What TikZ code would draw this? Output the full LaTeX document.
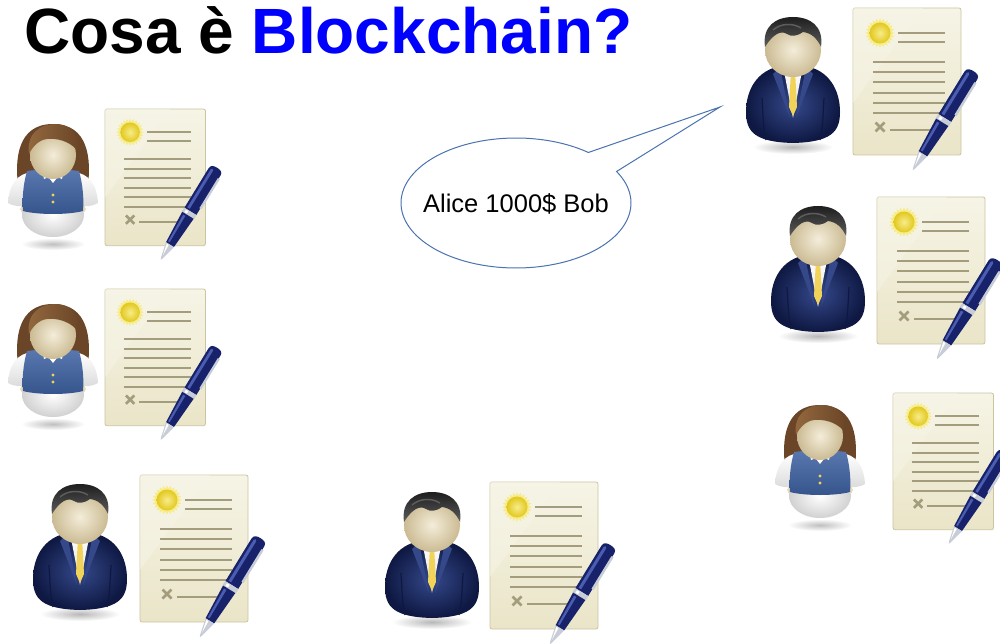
\documentclass[tikz,border=0pt]{standalone}
\usepackage{fontspec}
\setmainfont{Liberation Sans}
\definecolor{suitdark}{HTML}{0E1842}
\definecolor{suitmid}{HTML}{1E2F68}
\definecolor{suitlight}{HTML}{34488A}
\definecolor{skin}{HTML}{E6DABB}
\definecolor{skinlight}{HTML}{F4EDDA}
\definecolor{skindark}{HTML}{CBBB93}
\definecolor{hairblack}{HTML}{1E1E1E}
\definecolor{hairgrey}{HTML}{5C5C5C}
\definecolor{hairbrown}{HTML}{6A4527}
\definecolor{hairbrownlight}{HTML}{94693F}
\definecolor{vest}{HTML}{36548C}
\definecolor{vestlight}{HTML}{5A78B0}
\definecolor{tie}{HTML}{F2D35A}
\definecolor{paper}{HTML}{EAE5C8}
\definecolor{paperlight}{HTML}{F6F4E6}
\definecolor{paperedge}{HTML}{CBC4A0}
\definecolor{ink}{HTML}{A39D7E}
\definecolor{seal}{HTML}{E2C81E}
\definecolor{seallight}{HTML}{F7EC8A}
\definecolor{pen}{HTML}{17226A}
\definecolor{penlight}{HTML}{4B5DB0}
\definecolor{metal}{HTML}{C8CCD6}
\definecolor{bubble}{HTML}{4A73B0}
\definecolor{titleblue}{HTML}{0000FF}

\tikzset{
  inkline/.style={draw=ink, line width=2pt},
  % man in a navy suit, origin at the centre of the face
  man/.pic={
    \shade[inner color=black!28, outer color=white] (0,97) ellipse [x radius=40, y radius=7];
    \shade[inner color=suitlight, outer color=suitdark]
      (-12,16) .. controls (-36,20) and (-47,40) .. (-47,62)
      .. controls (-47,82) and (-38,92) .. (0,93)
      .. controls (38,92) and (47,82) .. (47,62)
      .. controls (47,40) and (36,20) .. (12,16) -- cycle;
    \draw[suitdark, line width=1.2pt] (-31,48) .. controls (-30,64) and (-30,78) .. (-27,90);
    \draw[suitdark, line width=1.2pt] (31,48) .. controls (30,64) and (30,78) .. (27,90);
    \fill[suitlight] (-13,17) -- (-20,24) -- (-3,68) -- cycle;
    \fill[suitlight] (13,17) -- (20,24) -- (3,68) -- cycle;
    \shade[top color=white, bottom color=black!12] (-10,16) -- (10,16) -- (0,68) -- cycle;
    \fill[tie] (-3.5,19) -- (3.5,19) -- (2.3,26) -- (-2.3,26) -- cycle;
    \fill[tie] (-2.3,26) -- (2.3,26) -- (4,57) -- (0,66) -- (-4,57) -- cycle;
    \shade[inner color=skinlight, outer color=skindark] (0,0) ellipse [x radius=28, y radius=27];
    \shade[top color=hairblack, bottom color=hairgrey]
      (-28,-3) .. controls (-31,-24) and (-17,-33) .. (0,-33)
      .. controls (17,-33) and (31,-24) .. (28,-3)
      .. controls (24,-12) and (18,-17) .. (10,-18)
      .. controls (5,-14) and (-2,-13) .. (-6,-16)
      .. controls (-12,-20) and (-20,-16) .. (-28,-3) -- cycle;
    \draw[hairgrey, line width=1.5pt] (-20,-20) .. controls (-12,-27) and (0,-27) .. (8,-22);
  },
  % woman in a blue vest, origin at the centre of the face
  woman/.pic={
    \shade[inner color=black!25, outer color=white] (0,89) ellipse [x radius=32, y radius=6];
    \fill[hairbrown]
      (-35,30) .. controls (-38,5) and (-36,-31) .. (0,-31)
      .. controls (36,-31) and (38,5) .. (35,30) -- cycle;
    \shade[top color=white, bottom color=black!14]
      (-20,17) .. controls (-36,18) and (-44,30) .. (-45,48)
      .. controls (-38,52) and (-30,52) .. (-24,50) -- cycle;
    \shade[top color=white, bottom color=black!14]
      (20,17) .. controls (36,18) and (44,30) .. (45,48)
      .. controls (38,52) and (30,52) .. (24,50) -- cycle;
    \fill[skin] (-28,54) ellipse [x radius=5, y radius=4];
    \fill[skin] (28,54) ellipse [x radius=5, y radius=4];
    \shade[inner color=white, outer color=black!18] (0,60) ellipse [x radius=31, y radius=22];
    \shade[top color=vestlight, bottom color=vest]
      (-26,16) -- (-9,14) -- (0,28) -- (9,14) -- (26,16)
      .. controls (30,30) and (31,45) .. (30,56)
      .. controls (15,60) and (-15,60) .. (-30,56)
      .. controls (-31,45) and (-30,30) .. (-26,16) -- cycle;
    \fill[white] (-11,14) -- (0,28) -- (11,14) -- (7,13) -- (0,22) -- (-7,13) -- cycle;
    \fill[white] (-11,14) -- (-4,22) -- (-9,24) -- cycle;
    \fill[white] (11,14) -- (4,22) -- (9,24) -- cycle;
    \fill[tie] (0,40) circle [radius=1.6];
    \fill[tie] (0,47) circle [radius=1.6];
    \shade[inner color=skinlight, outer color=skindark] (0,0) ellipse [x radius=23, y radius=24];
    \shade[left color=hairbrownlight, right color=hairbrown]
      (-24,-1) .. controls (-27,-22) and (-12,-31) .. (2,-31)
      .. controls (18,-31) and (27,-20) .. (24,-5)
      .. controls (16,-14) and (4,-17) .. (-6,-16)
      .. controls (-14,-15) and (-20,-9) .. (-24,-1) -- cycle;
  },
  % signed sheet with a pen, origin at the top-left corner of the sheet
  doc/.pic={
    \shade[top color=paperlight, bottom color=paper, draw=paperedge, line width=0.8pt,
           rounded corners=2pt] (0,0) rectangle (108,147);
    \fill[paperlight, opacity=0.55] (0,0) -- (70,0) -- (0,95) -- cycle;
    \fill[seallight] plot[domain=0:360, samples=97]
      ({27+(13+1.6*cos(24*\x))*cos(\x)}, {25+(13+1.6*cos(24*\x))*sin(\x)}) -- cycle;
    \shade[inner color=seallight, outer color=seal] (27,25) circle [radius=10.5];
    \draw[inkline] (45,25) -- (92,25) (45,34) -- (92,34);
    \foreach \yy in {54,64,74,85,95,105} { \draw[inkline] (20,\yy) -- (92,\yy); }
    \draw[ink, line width=2.6pt] (22.5,114.5) -- (31.5,123.5) (31.5,114.5) -- (22.5,123.5);
    \draw[inkline] (37,122) -- (82,122);
    \begin{scope}[shift={(120,64)}, rotate=-121.5]
      \fill[pen] (4,-7.5) -- (54,-7.5) -- (54,7.5) -- (4,7.5)
        .. controls (0,7.5) and (-1,4) .. (-1,0) .. controls (-1,-4) and (0,-7.5) .. (4,-7.5) -- cycle;
      \fill[penlight] (4,2) -- (52,2) -- (52,5) -- (4,5) .. controls (2,5) and (2,2) .. (4,2) -- cycle;
      \fill[metal] (8,-9) -- (46,-9) -- (46,-6.5) -- (8,-6.5) -- cycle;
      \fill[metal] (54,-7.8) rectangle (59,7.8);
      \fill[white] (55,2) rectangle (58,5);
      \fill[pen] (59,-7.2) -- (96,-5) -- (96,5) -- (59,7.2) -- cycle;
      \fill[penlight] (61,2) -- (94,1.6) -- (94,3.6) -- (61,4.8) -- cycle;
      \fill[metal] (96,-5) -- (113,-1) -- (115,0) -- (113,1) -- (96,5) -- cycle;
      \fill[white] (97,1) -- (110,0.5) -- (97,3.5) -- cycle;
    \end{scope}
  }
}

\begin{document}
\begin{tikzpicture}[x=1pt, y=-1pt]
  \useasboundingbox (0,0) rectangle (1000,644);

  % title
  \node[anchor=base west, inner sep=0pt, font=\fontsize{64}{72}\selectfont\bfseries]
    (title) at (24,54) {Cosa è \textcolor{titleblue}{Blockchain?}};

  % participants and their signed ledgers
  \pic[scale=0.93] (docw1) at (105,109) {doc};
  \pic (w1) at (53,155) {woman};
  \pic[scale=0.93] (docw2) at (105,289) {doc};
  \pic (w2) at (53,335) {woman};
  \pic (docm3) at (140,475) {doc};
  \pic (m3) at (80,517) {man};
  \pic (docm4) at (490,482) {doc};
  \pic (m4) at (432,525) {man};
  \pic (docm1) at (853,8) {doc};
  \pic (m1) at (793,50) {man};
  \pic (docm2) at (877,197) {doc};
  \pic (m2) at (818,239) {man};
  \pic[scale=0.93] (docw3) at (893,393) {doc};
  \pic (w3) at (820,436) {woman};

  % speech bubble with its tail
  \coordinate (tip) at (720,107);
  \filldraw[fill=white, draw=bubble, line width=1pt]
    plot[domain=51:389, samples=120] ({516+115*cos(\x)}, {203-65*sin(\x)}) -- (tip) -- cycle;
  \node[inner sep=0pt, font=\fontsize{25.5}{30}\selectfont] (msg) at (516,204) {Alice 1000\$ Bob};
\end{tikzpicture}
\end{document}
